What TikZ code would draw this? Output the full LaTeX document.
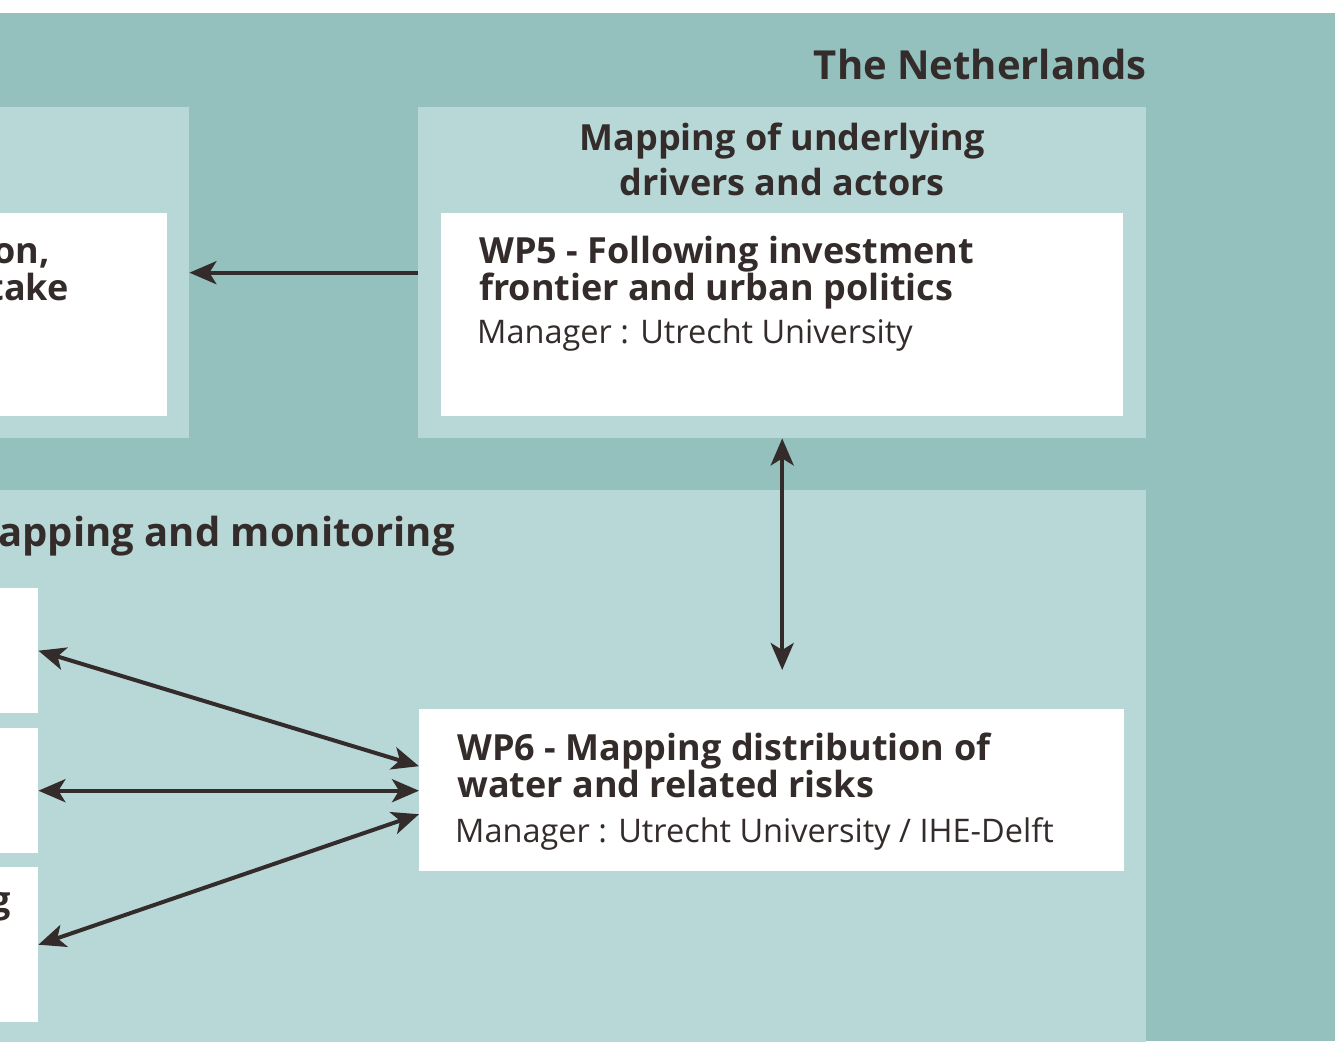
\documentclass[tikz,border=0pt]{standalone}
\usepackage{fontspec}
\setmainfont{Open Sans}
\usetikzlibrary{arrows.meta}
\definecolor{darkteal}{RGB}{148,193,190}
\definecolor{lightteal}{RGB}{184,216,215}
\definecolor{ink}{RGB}{51,44,43}
\begin{document}
\begin{tikzpicture}[x=1pt,y=-1pt,
    panel/.style={fill=lightteal,inner sep=0pt,anchor=north west},
    wpbox/.style={fill=white,inner sep=0pt,anchor=north west},
    heading/.style={inner sep=0pt,text=ink,font=\fontsize{36}{40}\selectfont\bfseries},
    bigheading/.style={inner sep=0pt,text=ink,font=\fontsize{40}{46}\selectfont\bfseries},
    wptitle/.style={inner sep=0pt,text=ink,anchor=base west,font=\fontsize{36}{40}\selectfont\bfseries},
    manager/.style={inner sep=0pt,text=ink,anchor=base west,font=\fontsize{32.5}{36}\selectfont},
    tip/.tip={Stealth[length=27pt,width=23pt,inset=7pt]},
    arr/.style={draw=ink,line width=4pt,-tip},
    both/.style={draw=ink,line width=4pt,tip-tip}]
  \useasboundingbox (0,0) rectangle (1335,1041);
  \clip (0,0) rectangle (1335,1041);
  \fill[darkteal] (0,13) rectangle (1335,1041);

  % panels
  \path (-300,107) node[panel,minimum width=489pt,minimum height=331pt] (panelA) {};
  \path (418,107) node[panel,minimum width=728pt,minimum height=331pt] (panelB) {};
  \path (-300,490) node[panel,minimum width=1446pt,minimum height=600pt] (panelC) {};

  % white boxes
  \path (-300,213) node[wpbox,minimum width=467pt,minimum height=203pt] (boxL) {};
  \path (441,213) node[wpbox,minimum width=682pt,minimum height=203pt] (wpfive) {};
  \path (-300,588) node[wpbox,minimum width=338pt,minimum height=125pt] (boxa) {};
  \path (-300,728) node[wpbox,minimum width=338pt,minimum height=125pt] (boxb) {};
  \path (-300,867) node[wpbox,minimum width=338pt,minimum height=155pt] (boxc) {};
  \path (419,709) node[wpbox,minimum width=705pt,minimum height=162pt] (wpsix) {};

  % texts
  \node[bigheading,anchor=base east] (nl) at (1147,79) {The Netherlands};
  \node[heading,anchor=base] (hdr) at ([yshift=-43pt]panelB.north) {Mapping of underlying};
  \node[heading,anchor=base] (hdrb) at ([yshift=-45pt]hdr.base) {drivers and actors};
  \node[bigheading,anchor=base east] (monit) at (455,546) {apping and monitoring};

  \node[wptitle] (wpfivea) at ([shift={(38pt,-50pt)}]wpfive.north west) {WP5 - Following investment};
  \node[wptitle] (wpfiveb) at ([yshift=-37pt]wpfivea.base west) {frontier and urban politics};
  \node[manager] (wpfivem) at ([shift={(-2pt,-43pt)}]wpfiveb.base west) {Manager : Utrecht University};

  \node[wptitle] (wpsixa) at ([shift={(38pt,-51pt)}]wpsix.north west) {WP6 - Mapping distribution of};
  \node[wptitle] (wpsixb) at ([yshift=-37pt]wpsixa.base west) {water and related risks};
  \node[manager] (wpsixm) at ([shift={(-2pt,-45pt)}]wpsixb.base west) {Manager : Utrecht University / IHE-Delft};

  \node[wptitle,anchor=base east] (cuta) at (50,263) {on,};
  \node[wptitle,anchor=base east] (cutb) at (69,300) {take};
  \node[wptitle,anchor=base east] (cutc) at (11,912) {g};

  % connectors
  \draw[arr] (panelB) -- (panelA);
  \draw[both,shorten >=39pt] (panelB.south) -- (panelB.south |- wpsix.north);
  \draw[both] (boxa.east) -- ([yshift=24pt]wpsix.west);
  \draw[both] (boxb.east) -- (boxb.east -| wpsix.west);
  \draw[both] (boxc.east) -- ([yshift=-24pt]wpsix.west);
\end{tikzpicture}
\end{document}
